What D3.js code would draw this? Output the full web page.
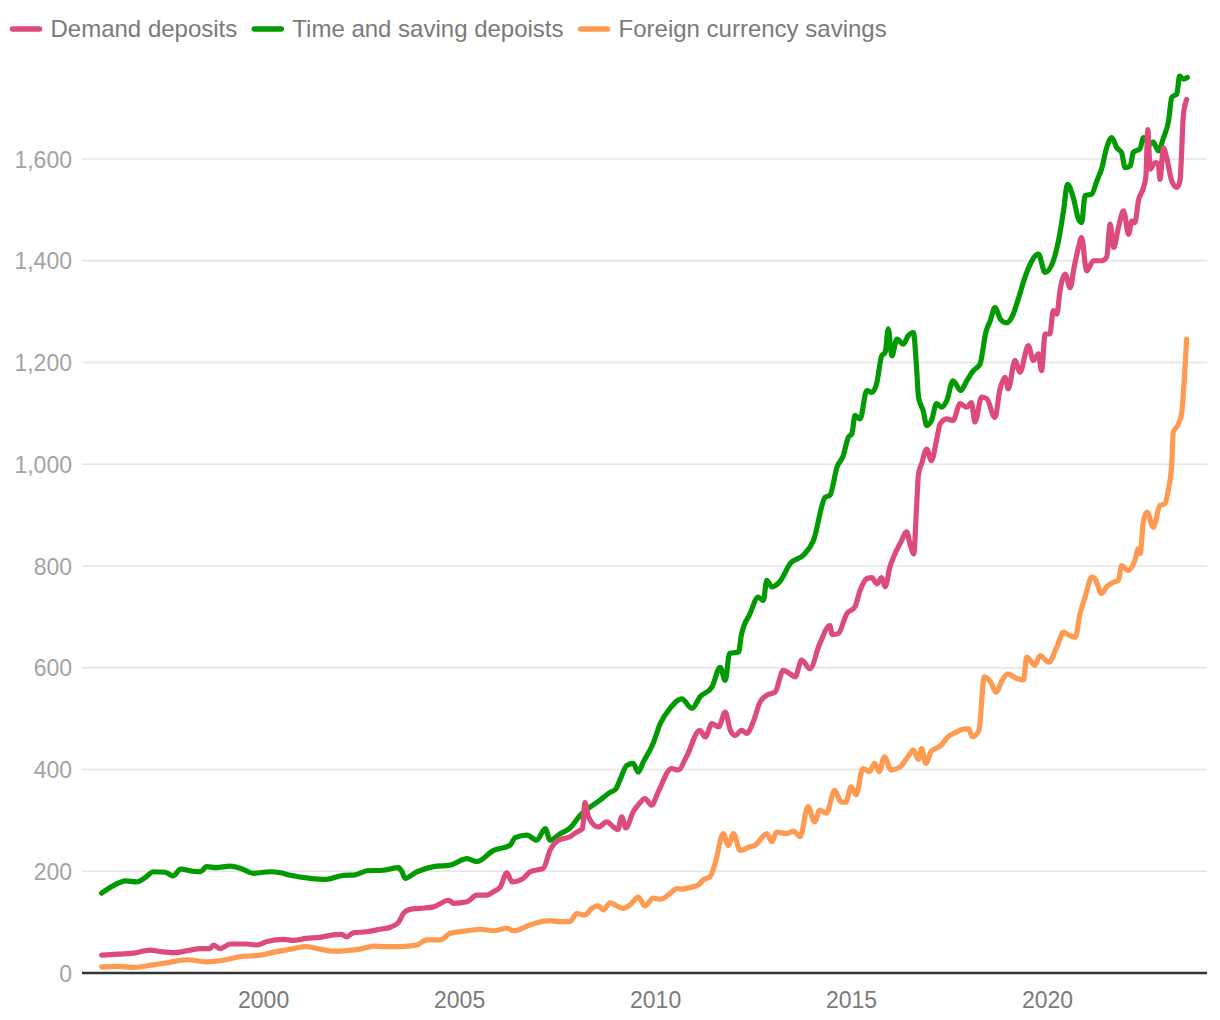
<!DOCTYPE html>
<html>
<head>
<meta charset="utf-8">
<script src="https://cdn.jsdelivr.net/npm/d3@7"></script>
<style>
  html, body { margin: 0; padding: 0; background: #ffffff; }
  svg { display: block; font-family: "Liberation Sans", Arial, Helvetica, sans-serif; }
</style>
</head>
<body>
<svg id="chart" width="1220" height="1020"></svg>
<script>
// ---- Data ----
const seriesNames = ["Demand deposits", "Time and saving depoists", "Foreign currency savings"];
const seriesColors = ["#dd4a7d", "#029a02", "#ff9a52"];

const yTicks = [0, 200, 400, 600, 800, 1000, 1200, 1400, 1600];
const yTickLabels = ["0", "200", "400", "600", "800", "1,000", "1,200", "1,400", "1,600"];
const xTicks = [2000, 2005, 2010, 2015, 2020];
const xTickLabels = ["2000", "2005", "2010", "2015", "2020"];

const timeYears = [1995.88,1996.1,1996.5,1996.77,1997.0,1997.2,1997.5,1997.7,1997.9,1998.2,1998.4,1998.56,1998.8,1999.16,1999.45,1999.75,2000.18,2000.45,2000.7,2001.2,2001.6,2002.05,2002.35,2002.65,2003.06,2003.45,2003.55,2003.62,2003.92,2004.35,2004.77,2005.2,2005.45,2005.88,2006.3,2006.43,2006.73,2006.98,2007.2,2007.32,2007.58,2007.83,2008.09,2008.6,2008.85,2009.0,2009.1,2009.28,2009.44,2009.57,2009.7,2009.95,2010.13,2010.38,2010.68,2010.94,2011.15,2011.45,2011.66,2011.79,2011.9,2012.13,2012.2,2012.42,2012.63,2012.76,2012.85,2012.98,2013.19,2013.45,2013.78,2014.04,2014.34,2014.46,2014.64,2014.8,2014.93,2015.02,2015.1,2015.23,2015.4,2015.53,2015.66,2015.78,2015.87,2015.95,2016.04,2016.17,2016.33,2016.46,2016.59,2016.67,2016.72,2016.84,2016.93,2017.05,2017.18,2017.31,2017.44,2017.6,2017.8,2017.95,2018.12,2018.29,2018.44,2018.55,2018.67,2018.82,2018.97,2019.12,2019.25,2019.48,2019.78,2019.95,2020.16,2020.29,2020.42,2020.52,2020.67,2020.8,2020.88,2020.97,2021.14,2021.27,2021.4,2021.52,2021.65,2021.78,2021.9,2021.99,2022.12,2022.2,2022.37,2022.46,2022.63,2022.71,2022.84,2022.97,2023.1,2023.18,2023.31,2023.38,2023.48,2023.58];
const timeValues = [157,168,181,179,188,199,198,191,204,200,199,209,207,210,205,196,199,197,192,186,184,192,193,201,202,207,198,186,199,209,212,225,219,241,251,266,271,261,284,261,274,285,310,340,355,362,379,408,412,395,415,451,490,520,539,520,543,562,601,575,628,631,664,706,739,732,772,759,770,805,821,850,935,939,994,1017,1053,1060,1096,1089,1145,1141,1161,1213,1220,1266,1213,1246,1236,1253,1259,1190,1132,1105,1076,1086,1119,1112,1125,1164,1145,1164,1184,1197,1260,1282,1308,1284,1278,1292,1321,1377,1413,1377,1400,1439,1498,1550,1524,1482,1475,1528,1531,1557,1583,1622,1642,1622,1613,1583,1586,1613,1620,1642,1629,1633,1616,1642,1675,1721,1728,1763,1757,1760];

const demandYears = [1995.88,1996.3,1996.69,1997.12,1997.4,1997.71,1998.14,1998.39,1998.65,1998.73,1998.9,1999.16,1999.58,1999.84,2000.1,2000.52,2000.77,2001.1,2001.45,2001.79,2002.0,2002.13,2002.3,2002.65,2002.98,2003.24,2003.45,2003.58,2003.75,2004.0,2004.35,2004.73,2004.86,2005.2,2005.45,2005.71,2005.88,2006.05,2006.22,2006.35,2006.64,2006.81,2007.15,2007.32,2007.53,2007.83,2008.0,2008.15,2008.21,2008.3,2008.55,2008.77,2008.94,2009.05,2009.15,2009.25,2009.45,2009.6,2009.74,2009.91,2010.08,2010.42,2010.59,2010.8,2011.14,2011.28,2011.45,2011.62,2011.79,2011.92,2012.04,2012.21,2012.34,2012.5,2012.68,2012.85,2013.06,2013.27,2013.44,2013.57,2013.74,2013.95,2014.2,2014.46,2014.52,2014.67,2014.89,2015.1,2015.23,2015.4,2015.53,2015.66,2015.78,2015.87,2015.99,2016.12,2016.25,2016.42,2016.5,2016.6,2016.67,2016.72,2016.8,2016.93,2017.05,2017.18,2017.27,2017.44,2017.6,2017.78,2017.95,2018.07,2018.16,2018.33,2018.46,2018.67,2018.8,2018.93,2019.01,2019.18,2019.31,2019.52,2019.65,2019.78,2019.86,2019.95,2020.07,2020.16,2020.25,2020.33,2020.46,2020.59,2020.69,2020.8,2020.88,2021.01,2021.18,2021.4,2021.52,2021.61,2021.7,2021.82,2021.95,2022.08,2022.16,2022.24,2022.33,2022.46,2022.52,2022.57,2022.63,2022.76,2022.84,2022.88,2022.97,2023.05,2023.18,2023.31,2023.39,2023.48,2023.56];
const demandValues = [35,37,39,45,42,40,45,48,48,55,48,57,57,55,62,66,64,68,70,75,76,71,79,81,86,90,99,117,125,127,130,143,137,140,153,153,160,169,197,179,186,199,206,241,261,268,277,284,335,307,287,297,287,282,307,285,318,333,343,330,356,402,399,425,477,464,490,484,513,477,467,477,471,493,533,546,552,595,588,582,615,598,647,683,665,667,706,720,752,775,777,765,777,759,798,824,844,867,844,824,916,981,1001,1030,1007,1047,1079,1089,1086,1119,1112,1121,1083,1132,1129,1092,1148,1171,1148,1204,1181,1233,1204,1217,1184,1256,1256,1302,1295,1341,1374,1347,1387,1426,1446,1380,1400,1400,1407,1472,1426,1465,1498,1452,1478,1475,1518,1544,1565,1658,1580,1593,1590,1560,1622,1603,1557,1544,1557,1688,1717];

const foreignYears = [1995.88,1996.3,1996.69,1997.2,1997.54,1998.05,1998.56,1998.9,1999.41,1999.92,2000.35,2000.77,2001.1,2001.45,2001.79,2002.13,2002.47,2002.81,2003.16,2003.5,2003.92,2004.17,2004.52,2004.77,2005.2,2005.54,2005.88,2006.22,2006.39,2006.73,2006.98,2007.32,2007.58,2007.83,2008.0,2008.21,2008.38,2008.55,2008.68,2008.85,2009.02,2009.19,2009.36,2009.57,2009.74,2009.95,2010.13,2010.38,2010.55,2010.68,2010.89,2011.1,2011.23,2011.4,2011.53,2011.74,2011.87,2012.0,2012.17,2012.42,2012.55,2012.85,2012.98,2013.1,2013.36,2013.53,2013.7,2013.9,2014.07,2014.2,2014.37,2014.58,2014.75,2014.87,2015.0,2015.13,2015.3,2015.47,2015.6,2015.72,2015.85,2016.02,2016.25,2016.45,2016.59,2016.72,2016.8,2016.91,2017.04,2017.3,2017.47,2017.7,2017.88,2018.0,2018.09,2018.26,2018.4,2018.56,2018.7,2018.85,2019.0,2019.23,2019.4,2019.48,2019.69,2019.82,2020.04,2020.25,2020.42,2020.55,2020.72,2020.84,2020.97,2021.14,2021.22,2021.39,2021.52,2021.69,2021.82,2021.9,2022.07,2022.24,2022.33,2022.37,2022.46,2022.55,2022.71,2022.88,2023.0,2023.09,2023.18,2023.22,2023.35,2023.43,2023.56];
const foreignValues = [12,13,11,16,20,26,22,24,32,35,42,48,52,47,43,44,47,53,52,52,55,65,65,78,83,86,83,88,83,92,99,103,101,101,117,114,127,132,124,138,132,127,134,149,132,147,145,156,166,165,168,173,183,189,215,274,251,274,241,248,251,274,258,277,274,279,268,327,297,320,314,359,336,336,366,350,402,396,412,396,425,399,405,425,438,420,441,412,435,448,464,474,480,480,464,477,582,572,552,575,588,579,576,621,605,624,611,641,670,664,660,706,739,778,775,746,759,768,772,801,791,811,834,824,889,906,876,919,922,948,1001,1063,1079,1099,1246];

// ---- Chart ----
const svg = d3.select("#chart");
const x = d3.scaleLinear().domain([1995.38, 2024.08]).range([82, 1207]);
const y = d3.scaleLinear().domain([0, 1800]).range([973, 57.25]);

// gridlines
svg.append("g").selectAll("line")
  .data(yTicks.filter(d => d !== 0))
  .join("line")
  .attr("x1", 82).attr("x2", 1207)
  .attr("y1", d => y(d)).attr("y2", d => y(d))
  .attr("stroke", "#e4e4e4").attr("stroke-width", 1.5);

// y axis labels
const yAxis = d3.axisLeft(y).tickValues(yTicks)
  .tickFormat((d, i) => yTickLabels[i]).tickSize(0).tickPadding(0);
const gy = svg.append("g").attr("transform", "translate(72,0)").call(yAxis);
gy.select(".domain").remove();
gy.selectAll("text").attr("fill", "#a3a3a3").style("font-size", "23px")
  .style("font-family", "'Liberation Sans', Arial, sans-serif").attr("dy", "0.35em");

// x axis labels
const xAxis = d3.axisBottom(x).tickValues(xTicks)
  .tickFormat((d, i) => xTickLabels[i]).tickSize(0).tickPadding(0);
const gx = svg.append("g").attr("transform", "translate(0,973)").call(xAxis);
gx.select(".domain").remove();
gx.selectAll("text").attr("fill", "#7a7a7a").style("font-size", "23px")
  .style("font-family", "'Liberation Sans', Arial, sans-serif").attr("y", 35).attr("dy", 0);

// baseline
svg.append("line").attr("x1", 82).attr("x2", 1207).attr("y1", y(0)).attr("y2", y(0))
  .attr("stroke", "#333333").attr("stroke-width", 2.5);

// lines
const lineGen = d3.line().x(d => x(d[0])).y(d => y(d[1])).curve(d3.curveMonotoneX);
const series = [
  { name: seriesNames[1], color: seriesColors[1], pts: d3.zip(timeYears, timeValues) },
  { name: seriesNames[0], color: seriesColors[0], pts: d3.zip(demandYears, demandValues) },
  { name: seriesNames[2], color: seriesColors[2], pts: d3.zip(foreignYears, foreignValues) }
];
svg.append("g").selectAll("path").data(series).join("path")
  .attr("d", d => lineGen(d.pts))
  .attr("fill", "none").attr("stroke", d => d.color)
  .attr("stroke-width", 5.2).attr("stroke-linejoin", "round").attr("stroke-linecap", "round");

// legend
const lg = svg.append("g");
let cx = 12.5;
seriesNames.forEach((name, i) => {
  lg.append("line").attr("x1", cx).attr("x2", cx + 27).attr("y1", 29).attr("y2", 29)
    .attr("stroke", seriesColors[i]).attr("stroke-width", 5.5).attr("stroke-linecap", "round");
  const t = lg.append("text").attr("x", cx + 38).attr("y", 28.5).attr("dy", "0.35em")
    .attr("fill", "#7a7a7a").style("font-size", "24px").text(name);
  const w = t.node().getComputedTextLength();
  cx = cx + 38 + w + 17;
});
</script>
</body>
</html>
